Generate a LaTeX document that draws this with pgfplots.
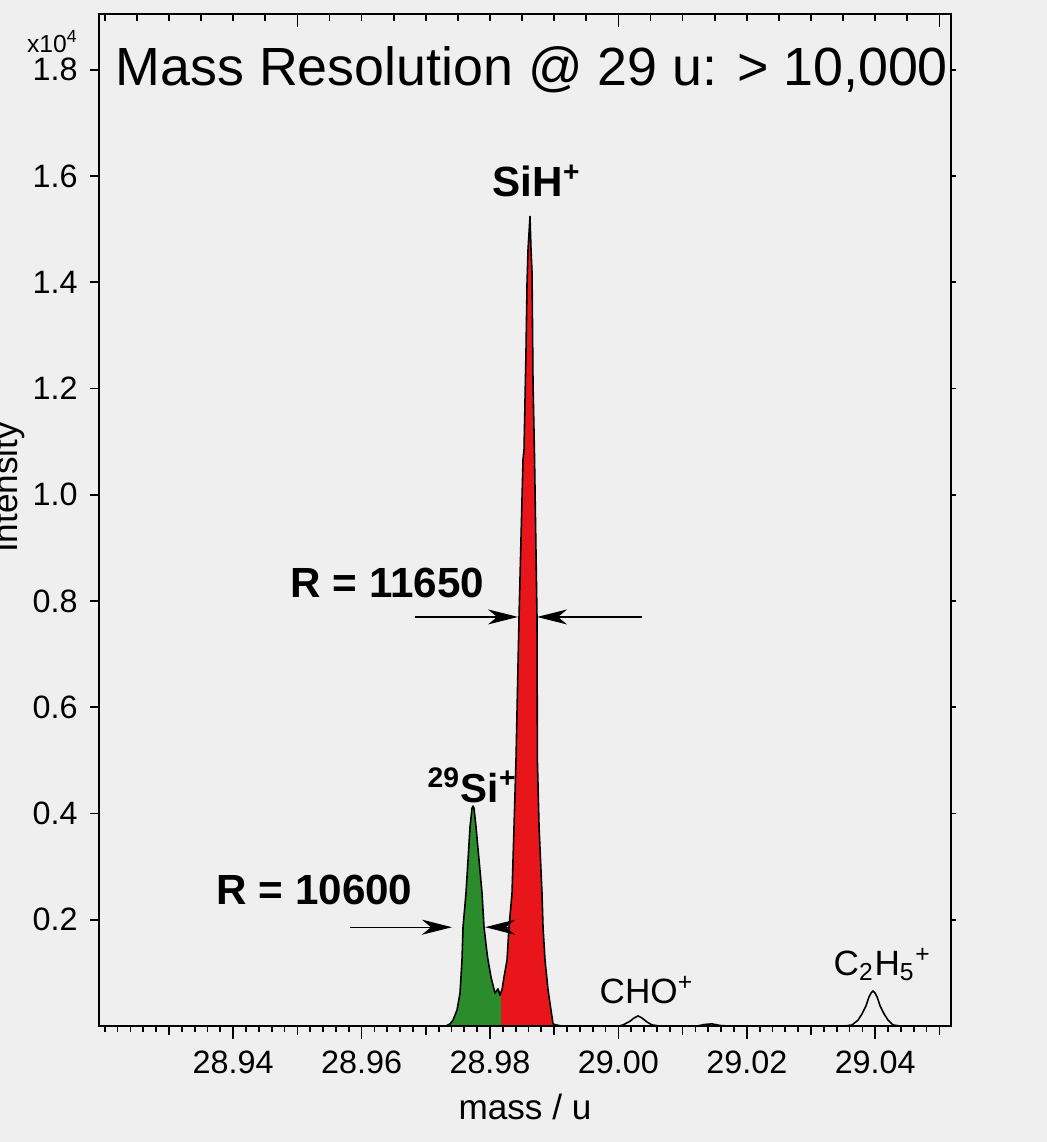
\documentclass[border=0pt]{standalone}
\usepackage{fontspec}
\setmainfont{Liberation Sans}
\usepackage{pgfplots}
\usepackage{pgfplotstable}
\pgfplotsset{compat=1.18}
\usetikzlibrary{arrows.meta,backgrounds}
\definecolor{paper}{HTML}{EFEFF0}
\definecolor{siG}{HTML}{2A8C2A}
\definecolor{siR}{HTML}{E8161A}

% x = (mass - 29 u) in mu, y = intensity in 1e4 counts
\pgfplotstableread{
x y
-80.9 0
-26.85 0
-26.23 0.004
-25.76 0.011
-25.14 0.030
-24.67 0.062
-24.36 0.124
-24.20 0.186
-23.74 0.250
-23.42 0.313
-23.11 0.375
-22.80 0.410
-22.64 0.414
-22.49 0.410
-22.18 0.375
-21.71 0.313
-21.24 0.250
-20.93 0.186
-20.46 0.137
-20.31 0.124
-19.84 0.092
-19.22 0.062
-18.75 0.070
-18.44 0.058
-18.28 0.064
-18.13 0.068
-17.82 0.092
-17.35 0.124
-17.04 0.186
-16.57 0.250
-16.26 0.375
-15.95 0.501
-15.48 0.770
-14.86 1.066
-14.70 1.085
-14.39 1.273
-14.23 1.399
-14.08 1.461
-13.77 1.524
-13.61 1.461
-13.45 1.418
-13.30 1.211
-13.07 1.075
-12.68 0.770
-12.62 0.501
-12.36 0.375
-11.90 0.250
-11.74 0.186
-11.43 0.124
-10.96 0.068
-10.50 0.030
-10.18 0.004
-9.72 0.002
-8.78 0
0.00 0
0.72 0.002
1.03 0.004
1.81 0.009
2.43 0.015
3.06 0.019
3.68 0.015
4.46 0.0075
5.24 0.002
6.48 0
12.25 0
13.49 0.003
14.58 0.004
15.83 0.001
17.08 0
35.30 0
36.39 0.002
37.32 0.011
37.95 0.023
38.57 0.038
39.04 0.055
39.35 0.062
39.66 0.066
39.97 0.062
40.28 0.055
40.75 0.038
41.37 0.023
42.00 0.011
42.78 0.002
43.87 0
51.8 0
}\spectrum

\pgfplotsset{
  tofbox/.style={
    width=8.52cm, height=10.12cm, scale only axis,
    xmin=-80.9, xmax=51.8, ymin=0, ymax=1.905,
    axis line style={line width=0.6pt},
    every tick/.style={black, line width=0.5pt},
    /pgf/number format/assume math mode=true,
    tick label style={font=\fontsize{9.2}{10}\selectfont},
  },
}

\begin{document}
\begin{tikzpicture}
% --- main axis: data, bottom ticks ---
\begin{axis}[
    tofbox, name=ax, clip=false,
    xtick={-60,-40,-20,0,20,40},
    xticklabels={28.94,28.96,28.98,29.00,29.02,29.04},
    minor xtick={-80,-78,...,50},
    extra x ticks={-70,-50,-30,-10,10,30,50},
    extra x tick labels={},
    extra x tick style={major tick length=0.9mm},
    xtick pos=bottom, ytick=\empty,
    tick align=outside, major tick length=1.3mm, minor tick length=0.6mm,
    xlabel={mass / u}, xlabel style={font=\fontsize{10}{12}\selectfont, yshift=2.6mm},
]
\addplot[draw=none, fill=siG, restrict x to domain=-27:-18.27] table {\spectrum} \closedcycle;
\addplot[draw=none, fill=siR, restrict x to domain=-18.29:-8] table {\spectrum} \closedcycle;
\addplot[black, line width=0.45pt, line join=round] table {\spectrum};

\node[anchor=base west, inner sep=0pt, font=\fontsize{15.3}{17}\selectfont] at (axis cs:-78.41,1.770)
  {Mass Resolution @ 29 u: > 10,000};
\node[anchor=base east, font=\fontsize{7}{8}\selectfont, inner sep=0pt] at (axis cs:-84.0,1.832)
  {x10\textsuperscript{4}};
\node[rotate=90, anchor=base, font=\fontsize{10}{12}\selectfont, inner sep=0pt] at (axis cs:-93.6,1.014)
  {Intensity};

\node[anchor=base west, inner sep=0pt, font=\bfseries\fontsize{12}{14}\selectfont] at (axis cs:-19.68,1.561)
  {SiH\textsuperscript{+}};
\node[anchor=base west, inner sep=0pt, font=\bfseries\fontsize{11.5}{14}\selectfont] at (axis cs:-29.81,0.420)
  {\textsuperscript{29}Si\textsuperscript{+}};
\node[anchor=base west, inner sep=0pt, font=\bfseries\fontsize{12}{14}\selectfont] at (axis cs:-51.15,0.806)
  {R = 11650};
\node[anchor=base west, inner sep=0pt, font=\bfseries\fontsize{12}{14}\selectfont] at (axis cs:-62.68,0.228)
  {R = 10600};
\node[anchor=base west, inner sep=0pt, font=\fontsize{10}{12}\selectfont] at (axis cs:-3.02,0.0433)
  {CHO\textsuperscript{+}};
\node[anchor=base west, inner sep=0pt, font=\fontsize{10}{12}\selectfont] at (axis cs:33.43,0.096)
  {C\textsubscript{2}H\textsubscript{5}\textsuperscript{+}};

\tikzset{fwhm/.style={line width=0.35pt, -{Stealth[length=3mm,width=1.5mm,inset=0.9mm]}}}
\draw[fwhm] (axis cs:-31.68,0.770) -- (axis cs:-15.63,0.770);
\draw[fwhm] (axis cs:3.68,0.770) -- (axis cs:-12.68,0.770);
\draw[fwhm] (axis cs:-41.80,0.186) -- (axis cs:-25.92,0.186);
\draw[fwhm] (axis cs:-17.19,0.186) -- (axis cs:-20.77,0.186);
\end{axis}
% --- left y ticks ---
\begin{axis}[
    tofbox, at={(ax.south west)}, anchor=south west,
    xtick=\empty, ytick pos=left,
    ytick={0.2,0.4,0.6,0.8,1.0,1.2,1.4,1.6,1.8},
    yticklabel style={/pgf/number format/.cd, fixed, fixed zerofill, precision=1},
    tick align=outside, major tick length=0.9mm,
]
\end{axis}
% --- top ticks (inside) ---
\begin{axis}[
    tofbox, at={(ax.south west)}, anchor=south west,
    ytick=\empty, xtick pos=top,
    xtick={-50,0,50}, xticklabels={},
    minor xtick={-80,-75,...,50},
    tick align=inside, major tick length=1.3mm, minor tick length=0.7mm,
]
\end{axis}
% --- right ticks (outside) ---
\begin{axis}[
    tofbox, at={(ax.south west)}, anchor=south west,
    xtick=\empty, ytick pos=right,
    ytick={0.2,0.4,0.6,0.8,1.0,1.2,1.4,1.6,1.8}, yticklabels={},
    tick align=outside, major tick length=0.5mm,
]
\end{axis}
\pgfresetboundingbox
\path[use as bounding box] ([shift={(-0.99cm,-1.16cm)}]ax.south west) rectangle ([shift={(0.96cm,0.14cm)}]ax.north east);
\begin{scope}[on background layer]
\fill[paper] ([shift={(-0.99cm,-1.16cm)}]ax.south west) rectangle ([shift={(0.96cm,0.14cm)}]ax.north east);
\end{scope}
\end{tikzpicture}
\end{document}
